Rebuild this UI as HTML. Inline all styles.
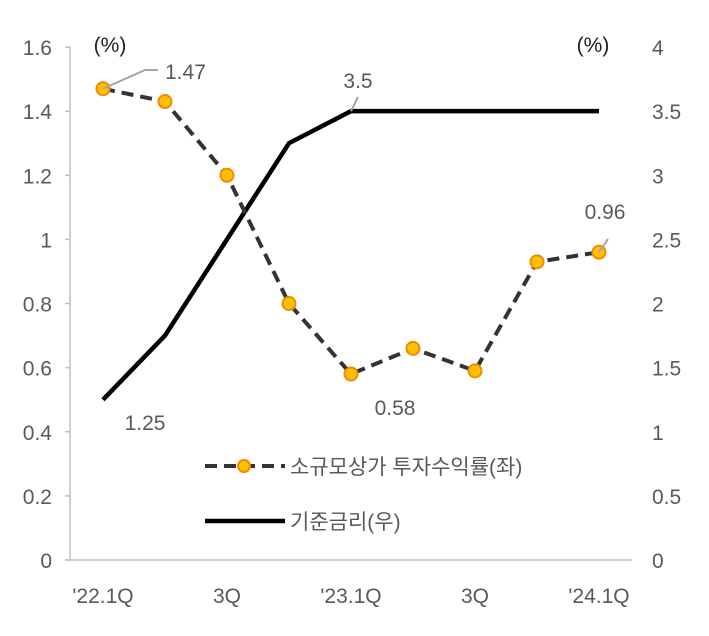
<!DOCTYPE html>
<html><head><meta charset="utf-8"><style>
body{margin:0;background:#fff}
svg text{font-family:"Liberation Sans","Noto Sans CJK KR",sans-serif;fill:#595959;font-size:21px}
</style></head><body>
<svg width="709" height="631">
<g id="g"></g>
</svg>
<script>
const categories=["'22.1Q","","3Q","","'23.1Q","","3Q","","'24.1Q"];
const returns=[1.47,1.43,1.2,0.8,0.58,0.66,0.59,0.93,0.96];
const rates=[1.25,1.75,2.5,3.25,3.5,3.5,3.5,3.5,3.5];
const leftTicks=[0,0.2,0.4,0.6,0.8,1,1.2,1.4,1.6];
const rightTicks=[0,0.5,1,1.5,2,2.5,3,3.5,4];
const NS="http://www.w3.org/2000/svg",g=document.getElementById('g');
const x=i=>103+i*62, yL=v=>560-v*320.6, yR=v=>560-v*128.25;
function mk(t,a,txt){const e=document.createElementNS(NS,t);for(const k in a)e.setAttribute(k,a[k]);if(txt!=null)e.textContent=txt;g.appendChild(e);return e;}
let e;
e=mk('line',{x1:70,y1:47,x2:70,y2:560,stroke:'#bfbfbf','stroke-width':1.5});

e=mk('line',{x1:65,y1:560,x2:632,y2:560,stroke:'#bfbfbf','stroke-width':1.5});

leftTicks.forEach(v=>{
 e=mk('line',{x1:65,y1:yL(v),x2:70,y2:yL(v),stroke:'#bfbfbf','stroke-width':1.5});
 
 e=mk('text',{x:52,y:yL(v)+8,'text-anchor':'end'},String(v));
 
});
rightTicks.forEach(v=>{
 e=mk('text',{x:652,y:yR(v)+8,'text-anchor':'start'},String(v));
 
});
categories.forEach((c,i)=>{if(!c)return;
 e=mk('text',{x:x(i),y:603,'text-anchor':'middle'},c);
 
});
e=mk('text',{x:110,y:52,'text-anchor':'middle',style:'fill:#222'},'(%)');

e=mk('text',{x:593,y:52,'text-anchor':'middle',style:'fill:#222'},'(%)');

e=mk('polyline',{points:rates.map((v,i)=>x(i)+','+yR(v)).join(' '),fill:'none',stroke:'#000','stroke-width':4.5});

e=mk('polyline',{points:returns.map((v,i)=>x(i)+','+yL(v)).join(' '),fill:'none',stroke:'#333','stroke-width':4,'stroke-dasharray':'12,7'});

returns.forEach((v,i)=>{
 e=mk('circle',{cx:x(i),cy:yL(v),r:6.5,fill:'#ffc000',stroke:'#f08c00','stroke-width':2});
 
});
mk('polyline',{points:`${x(0)},${yL(returns[0])} 145,70 158,70`,fill:'none',stroke:'#a6a6a6','stroke-width':2});
e=mk('text',{x:165,y:79},'1.47');
mk('line',{x1:x(4),y1:yR(rates[4]),x2:358,y2:97,stroke:'#a6a6a6','stroke-width':2});
e=mk('text',{x:358,y:88,'text-anchor':'middle'},'3.5');
e=mk('text',{x:145,y:430,'text-anchor':'middle'},'1.25');
e=mk('text',{x:395,y:415,'text-anchor':'middle'},'0.58');
mk('line',{x1:x(8),y1:yL(returns[8]),x2:608,y2:239,stroke:'#a6a6a6','stroke-width':2});
e=mk('text',{x:605,y:219,'text-anchor':'middle'},'0.96');
e=mk('line',{x1:205,y1:466,x2:285,y2:466,stroke:'#333','stroke-width':4,'stroke-dasharray':'12,7'});

mk('circle',{cx:244,cy:466,r:6,fill:'#ffc000',stroke:'#f08c00','stroke-width':2});
e=mk('text',{x:290,y:474},'소규모상가 투자수익률(좌)');
e=mk('line',{x1:205,y1:521,x2:285,y2:521,stroke:'#000','stroke-width':4.5});

e=mk('text',{x:290,y:529},'기준금리(우)');
</script>
</body></html>
